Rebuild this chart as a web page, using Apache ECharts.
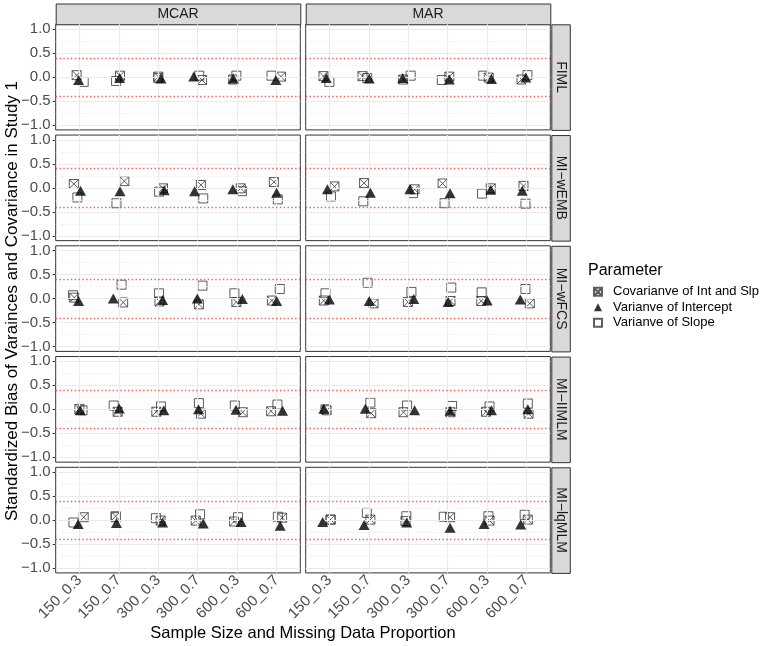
<!DOCTYPE html>
<html>
<head>
<meta charset="utf-8">
<script src="https://cdn.jsdelivr.net/npm/echarts@6/dist/echarts.min.js"></script>
<style>
html,body{margin:0;padding:0;background:#fff;}
#chart{width:767px;height:646px;}
</style>
</head>
<body>
<div id="chart"></div>
<script>
// ---------- data ----------
const categories = ['150_0.3','150_0.7','300_0.3','300_0.7','600_0.3','600_0.7'];
const mechanisms = ['MCAR','MAR'];
const methods = ['FIML','MI\u2212wEMB','MI\u2212wFCS','MI\u2212IIMLM','MI\u2212lqMLM'];
const seriesNames = ['Covarianve of Int and Slp','Varianve of Intercept','Varianve of Slope'];
const yTicks = [-1, -0.5, 0, 0.5, 1];
const refLines = [-0.4, 0.4];

// panels in order: FIML-MCAR, FIML-MAR, wEMB-MCAR, wEMB-MAR, wFCS-MCAR, wFCS-MAR, IIMLM-MCAR, IIMLM-MAR, lqMLM-MCAR, lqMLM-MAR
// Covariance of Int and Slp: values
const covY = [
  [0.04, 0.03, 0.01, -0.06, -0.05, 0.01],
  [0.02, 0.02, -0.05, 0.01, -0.01, -0.05],
  [0.08, 0.14, -0.01, 0.06, -0.01, 0.12],
  [0.03, 0.10, -0.03, 0.09, -0.01, 0.04],
  [0.02, -0.08, -0.06, -0.12, -0.07, -0.04],
  [-0.04, -0.10, -0.07, -0.05, -0.05, -0.10],
  [0.01, -0.05, -0.05, -0.09, -0.06, -0.04],
  [-0.02, -0.08, -0.06, -0.06, -0.05, -0.09],
  [0.06, 0.08, -0.01, -0.01, -0.03, 0.05],
  [0.01, 0.01, -0.02, 0.06, -0.01, 0.01]
];
// horizontal jitter (category units)
const covDX = [
  [-0.07, 0.03, 0.00, 0.11, -0.10, 0.11],
  [-0.15, -0.16, -0.13, 0.04, 0.04, -0.13],
  [-0.14, 0.14, 0.12, 0.08, 0.09, -0.07],
  [0.13, -0.12, 0.16, -0.13, 0.09, -0.08],
  [-0.13, 0.11, 0.03, 0.03, -0.02, -0.12],
  [-0.14, 0.12, -0.01, 0.07, -0.15, 0.08],
  [0.00, -0.03, -0.05, 0.08, 0.14, -0.14],
  [-0.07, 0.06, -0.12, 0.07, -0.03, 0.05],
  [0.11, -0.08, 0.06, -0.05, -0.08, 0.14],
  [0.03, 0.04, -0.07, 0.06, 0.06, 0.03]
];
// Variance of Intercept
const intY = [
  [-0.06, -0.02, -0.03, 0.01, -0.03, -0.06],
  [-0.02, -0.03, -0.02, -0.05, -0.04, -0.01],
  [-0.06, -0.07, -0.05, -0.07, -0.03, -0.10],
  [-0.03, -0.10, -0.03, -0.11, -0.04, -0.06],
  [-0.05, 0.00, -0.03, 0.00, -0.01, -0.05],
  [-0.02, -0.05, -0.01, -0.07, -0.04, -0.02],
  [-0.02, 0.02, -0.02, 0.00, -0.01, -0.03],
  [0.01, 0.01, -0.02, -0.03, -0.02, 0.00],
  [-0.08, -0.06, -0.05, -0.07, -0.04, -0.12],
  [-0.04, -0.10, -0.05, -0.16, -0.08, -0.09]
];
const intDX = [
  [-0.02, 0.02, 0.07, -0.10, -0.10, -0.02],
  [-0.08, 0.01, -0.14, 0.04, 0.11, -0.02],
  [0.03, 0.03, 0.15, -0.08, -0.11, 0.00],
  [-0.05, 0.04, 0.04, 0.06, 0.09, -0.11],
  [-0.02, -0.14, 0.11, -0.01, 0.13, 0.00],
  [0.00, 0.01, 0.14, 0.01, 0.00, -0.16],
  [0.02, 0.01, 0.14, 0.02, -0.03, 0.15],
  [-0.14, -0.09, 0.16, 0.06, 0.11, 0.03],
  [-0.03, -0.06, 0.11, 0.14, 0.10, 0.09],
  [-0.17, -0.12, -0.04, 0.06, -0.08, -0.15]
];
// Variance of Slope
const slpY = [
  [-0.10, -0.08, -0.02, 0.03, 0.03, 0.03],
  [-0.10, -0.02, 0.03, -0.06, 0.03, 0.04],
  [-0.20, -0.32, -0.08, -0.22, -0.07, -0.24],
  [-0.18, -0.28, -0.11, -0.32, -0.12, -0.33],
  [0.07, 0.29, 0.11, 0.27, 0.11, 0.20],
  [0.11, 0.33, 0.14, 0.23, 0.13, 0.20],
  [-0.02, 0.08, 0.06, 0.13, 0.08, 0.10],
  [0.00, 0.14, 0.08, 0.07, 0.06, 0.12],
  [-0.05, 0.06, 0.04, 0.12, 0.06, 0.07],
  [0.01, 0.15, 0.08, 0.07, 0.08, 0.11]
];
const slpDX = [
  [0.11, -0.07, 0.00, 0.04, -0.02, -0.13],
  [0.00, -0.04, 0.06, -0.15, -0.10, 0.02],
  [-0.05, -0.06, 0.02, 0.14, 0.12, 0.03],
  [0.04, -0.14, 0.12, -0.08, -0.13, -0.03],
  [-0.16, 0.07, 0.02, 0.12, -0.07, 0.08],
  [-0.10, -0.03, 0.08, 0.09, -0.14, -0.03],
  [0.08, -0.13, 0.07, 0.03, -0.06, 0.02],
  [-0.10, 0.04, -0.03, 0.11, 0.06, 0.03],
  [-0.15, -0.08, -0.06, 0.06, 0.02, 0.03],
  [0.03, -0.05, -0.05, -0.10, 0.03, -0.05]
];

// ---------- layout ----------
const colLeft = [55.7, 305.7];
const panelW = 244.6;
const rowTop0 = 24.3, rowPitch = 110.75, panelH = 105.6;
const gridCol = '#ebebeb';
const txtFont = '"Liberation Sans", Arial, Helvetica, sans-serif';

const covPath = 'path://M0,0L10,0L10,10L0,10Z M0,0L10,10 M10,0L0,10';

const chart = echarts.init(document.getElementById('chart'), null, {renderer: 'canvas'});

const grids = [], xAxes = [], yAxes = [], series = [], graphics = [];

function pts(Y, DX, p) {
  return Y[p].map((v, i) => [i + 1 + DX[p][i], v]);
}

const majorY = [-1, -0.5, 0, 0.5, 1];
const minorY = [-0.75, -0.25, 0.25, 0.75];
const catPos = [1, 2, 3, 4, 5, 6];

function lineSeries(p, data, style, z) {
  return {
    type: 'scatter', xAxisIndex: p, yAxisIndex: p, data: [], silent: true, z: z,
    markLine: {silent: true, symbol: 'none', label: {show: false}, animation: false,
      lineStyle: style, emphasis: {disabled: true}, data: data}
  };
}

for (let r = 0; r < methods.length; r++) {
  for (let c = 0; c < mechanisms.length; c++) {
    const p = r * 2 + c;
    const top = rowTop0 + r * rowPitch;
    grids.push({left: colLeft[c], top: top, width: panelW, height: panelH,
      show: true, backgroundColor: '#ffffff', borderColor: '#333333', borderWidth: 1, containLabel: false});
    const bottomRow = r === methods.length - 1;
    xAxes.push({
      type: 'value', gridIndex: p, min: 0.4, max: 6.6,
      axisLine: {show: false},
      splitLine: {show: false},
      axisTick: {show: bottomRow, customValues: catPos, length: 3, lineStyle: {color: '#333333'}},
      axisLabel: {show: bottomRow, customValues: catPos, rotate: 45, margin: 5,
        formatter: v => categories[Math.round(v) - 1] || '',
        color: '#4d4d4d', fontSize: 15, fontFamily: txtFont}
    });
    yAxes.push({
      type: 'value', gridIndex: p, min: -1.1, max: 1.1,
      axisLine: {show: false},
      splitLine: {show: false},
      axisTick: {show: c === 0, customValues: yTicks, length: 3, lineStyle: {color: '#333333'}},
      axisLabel: {show: c === 0, customValues: yTicks, margin: 5,
        formatter: v => (v < 0 ? '\u2212' : '') + Math.abs(v).toFixed(1),
        color: '#4d4d4d', fontSize: 15, fontFamily: txtFont}
    });
    series.push(lineSeries(p, minorY.map(v => ({yAxis: v})), {color: '#f3f3f3', width: 0.7, type: 'solid'}, 1));
    series.push(lineSeries(p, majorY.map(v => ({yAxis: v})).concat(catPos.map(v => ({xAxis: v}))),
      {color: gridCol, width: 1.1, type: 'solid'}, 1));
    series.push(lineSeries(p, refLines.map(v => ({yAxis: v})), {color: '#ff5555', width: 1.3, type: [1.4, 2.4]}, 2));
    // data series
    series.push({
      name: seriesNames[2], type: 'scatter', xAxisIndex: p, yAxisIndex: p, z: 3,
      data: pts(slpY, slpDX, p), symbol: 'rect', symbolSize: 9,
      itemStyle: {color: 'rgba(255,255,255,0)', borderColor: '#333333', borderWidth: 1}
    });
    series.push({
      name: seriesNames[0], type: 'scatter', xAxisIndex: p, yAxisIndex: p, z: 4,
      data: pts(covY, covDX, p), symbol: covPath, symbolSize: 9,
      itemStyle: {color: 'rgba(255,255,255,0)', borderColor: '#333333', borderWidth: 1}
    });
    series.push({
      name: seriesNames[1], type: 'scatter', xAxisIndex: p, yAxisIndex: p, z: 5,
      data: pts(intY, intDX, p), symbol: 'triangle', symbolSize: [11, 10],
      itemStyle: {color: '#000000'}
    });
  }
}

// strips
const stripFill = '#d9d9d9', stripBorder = '#333333';
mechanisms.forEach((m, c) => {
  graphics.push({type: 'rect', left: colLeft[c], top: 3.5,
    shape: {width: panelW, height: rowTop0 - 3.5},
    style: {fill: stripFill, stroke: stripBorder, lineWidth: 1}});
  graphics.push({type: 'text', x: colLeft[c] + panelW / 2, y: (3.5 + rowTop0) / 2,
    style: {text: m, fill: '#1a1a1a', font: '14px ' + txtFont, textAlign: 'center', textVerticalAlign: 'middle'}});
});
methods.forEach((m, r) => {
  const top = rowTop0 + r * rowPitch;
  const sx = colLeft[1] + panelW + 1;
  graphics.push({type: 'rect', left: sx, top: top,
    shape: {width: 18.5, height: panelH},
    style: {fill: stripFill, stroke: stripBorder, lineWidth: 1}});
  graphics.push({type: 'text', x: sx + 9.5, y: top + panelH / 2, rotation: -Math.PI / 2,
    style: {text: m, fill: '#1a1a1a', font: '14px ' + txtFont, textAlign: 'center', textVerticalAlign: 'middle'}});
});
// axis titles
graphics.push({type: 'text', x: 303, y: 633,
  style: {text: 'Sample Size and Missing Data Proportion', fill: '#000', font: '16.5px ' + txtFont, textAlign: 'center', textVerticalAlign: 'middle'}});
graphics.push({type: 'text', x: 12, y: 301, rotation: Math.PI / 2,
  style: {text: 'Standardized Bias of Varainces and Covariance in Study 1', fill: '#000', font: '17px ' + txtFont, textAlign: 'center', textVerticalAlign: 'middle'}});
// legend title
graphics.push({type: 'text', x: 588, y: 271,
  style: {text: 'Parameter', fill: '#000', font: '16px ' + txtFont, textAlign: 'left', textVerticalAlign: 'middle'}});

chart.setOption({
  animation: false,
  backgroundColor: '#ffffff',
  grid: grids,
  xAxis: xAxes,
  yAxis: yAxes,
  legend: {
    orient: 'vertical', left: 593, top: 284, padding: 0, itemWidth: 8, itemHeight: 8, itemGap: 0,
    data: seriesNames,
    textStyle: {fontSize: 13, lineHeight: 15.5, color: '#000', fontFamily: txtFont, padding: [0, 0, 0, 6]}
  },
  series: series,
  graphic: graphics
});
</script>
</body>
</html>
